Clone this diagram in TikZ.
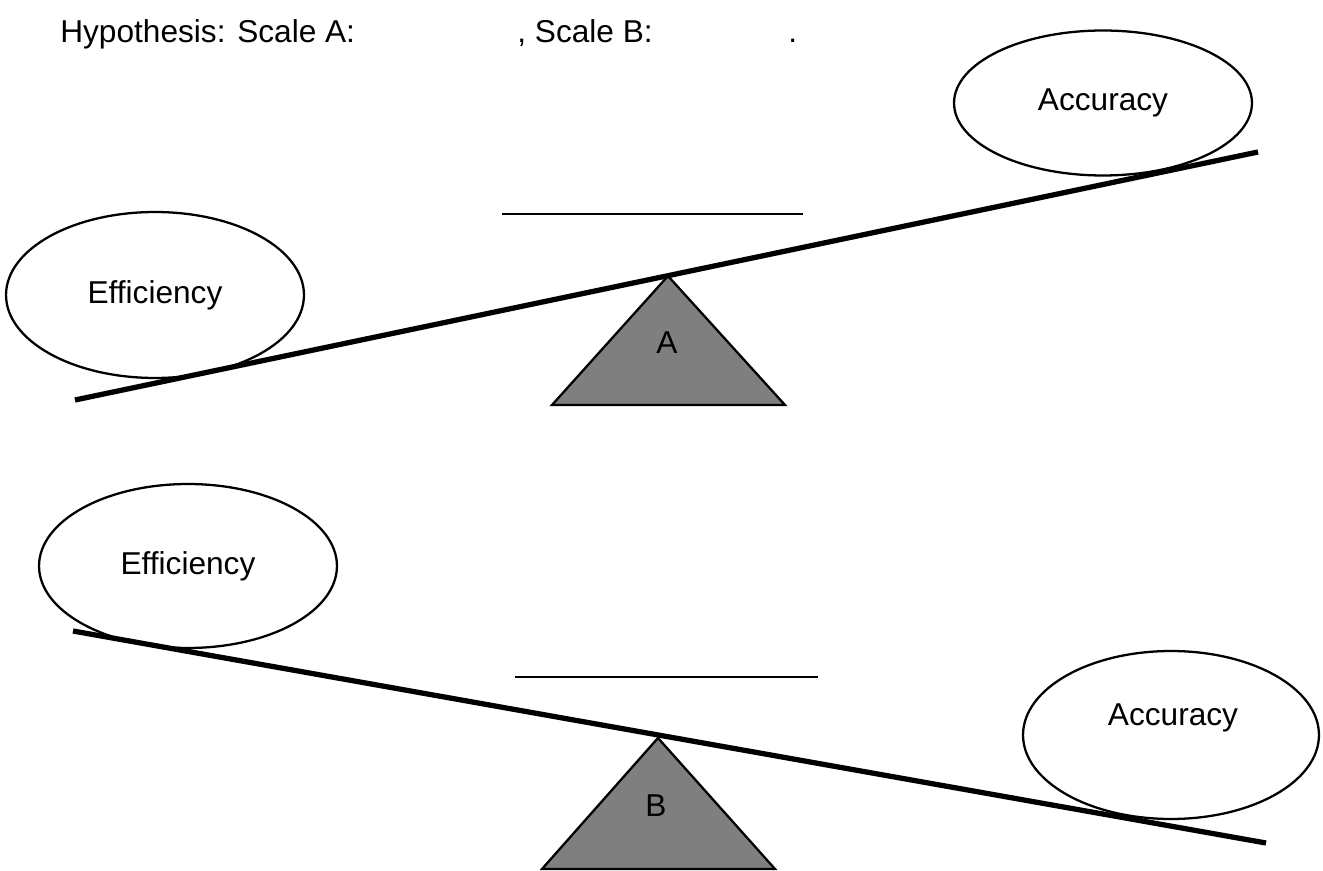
\documentclass[tikz,border=0pt]{standalone}
\usepackage{fontspec}
\setmainfont{Liberation Sans}
\usetikzlibrary{shapes.geometric}

\begin{document}
\begin{tikzpicture}[x=0.02cm,y=-0.02cm]

\tikzset{weight/.style = {shape=ellipse,draw,line width=1.3pt,inner sep=0pt,font=\fontsize{18}{21}\selectfont}}
\tikzset{beam/.style = {line width=3pt}}
\tikzset{fulcrum/.style = {draw,line width=1.3pt,fill={rgb,255:red,127;green,127;blue,127},line join=miter}}
\tikzset{blank/.style = {line width=0.6pt}}
\tikzset{txt/.style = {font=\fontsize{18}{21}\selectfont,inner sep=0pt}}
\useasboundingbox (0,0) rectangle (1323,871);
%heading
\node[txt, anchor=base west] (hyp) at (60,43) {Hypothesis: Scale A:};
\node[txt, anchor=base west] (sb) at (517,43) {, Scale B:};
\node[txt, anchor=base west] (dot) at (788,43) {.};
%scale A
\node[weight, minimum width=5.96cm, minimum height=3.32cm] (effA) at (155,295) {Efficiency};
\node[weight, minimum width=5.96cm, minimum height=2.9cm] (accA) at (1103,103) {Accuracy};
\coordinate (la) at (75,400);
\coordinate (ra) at (1258,152);
\coordinate (ta) at (668,276);
\coordinate (bla) at (552,405);
\coordinate (bra) at (785,405);
\draw[fulcrum] (ta) -- (bra) -- (bla) -- cycle;
\node[txt] (A) at (667,343) {A};
\draw[beam] (la) -- (ra);
\coordinate (ua1) at (502,214);
\coordinate (ua2) at (803,214);
\draw[blank] (ua1) -- (ua2);
%scale B
\node[weight, minimum width=5.96cm, minimum height=3.28cm] (effB) at (188,566) {Efficiency};
\node[weight, minimum width=5.92cm, minimum height=3.36cm] (accB) at (1171,735) {};
\node[txt] (accBt) at (1173,718) {Accuracy};
\coordinate (lb) at (73,631);
\coordinate (rb) at (1266,843);
\coordinate (tb) at (658,738);
\coordinate (blb) at (542,869);
\coordinate (brb) at (775,869);
\draw[fulcrum] (tb) -- (brb) -- (blb) -- cycle;
\node[txt] (B) at (656,806) {B};
\draw[beam] (lb) -- (rb);
\coordinate (ub1) at (515,677);
\coordinate (ub2) at (818,677);
\draw[blank] (ub1) -- (ub2);

\end{tikzpicture}
\end{document}
